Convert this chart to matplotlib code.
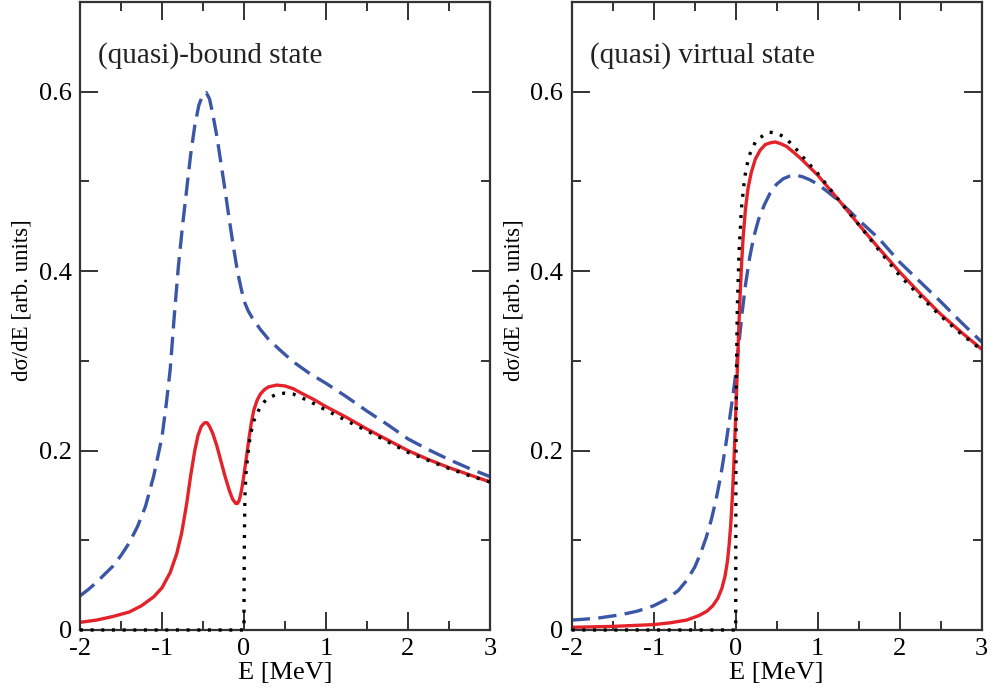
import matplotlib
matplotlib.use("Agg")
import matplotlib.pyplot as plt
from matplotlib.ticker import MultipleLocator

plt.rcParams['font.family'] = ['Liberation Serif', 'DejaVu Serif']

# ---- left panel: (quasi)-bound state ----
bound_red_E = [-2.0, -1.8, -1.6, -1.4, -1.25, -1.1, -1.0, -0.9, -0.82, -0.76, -0.7, -0.65, -0.6,
               -0.56, -0.52, -0.48, -0.45, -0.42, -0.38, -0.33, -0.28, -0.23, -0.18, -0.14, -0.1,
               -0.08, -0.06, -0.04, -0.02, 0.0, 0.02, 0.04, 0.06, 0.09, 0.12, 0.16, 0.2, 0.25, 0.3,
               0.4, 0.5, 0.6, 0.7, 0.85, 1.0, 1.25, 1.5, 1.75, 2.0, 2.25, 2.5, 2.75, 3.0]
bound_red_y = [0.0085, 0.011, 0.015, 0.020, 0.027, 0.037, 0.047, 0.064, 0.085, 0.108, 0.14, 0.172, 0.200,
               0.217, 0.227, 0.231, 0.231, 0.227, 0.219, 0.205, 0.188, 0.171, 0.156, 0.146, 0.141,
               0.141, 0.144, 0.151, 0.161, 0.173, 0.186, 0.199, 0.213, 0.231, 0.245, 0.256, 0.263, 0.268, 0.271,
               0.273, 0.272, 0.269, 0.264, 0.257, 0.249, 0.237, 0.224, 0.212, 0.200, 0.190, 0.181, 0.173, 0.165]

bound_blue_E = [-2.0, -1.9, -1.8, -1.7, -1.6, -1.5, -1.4, -1.3, -1.2, -1.1, -1.0, -0.95, -0.9, -0.85,
                -0.8, -0.75, -0.7, -0.65, -0.6, -0.55, -0.5, -0.46, -0.42, -0.38, -0.33, -0.28, -0.23,
                -0.18, -0.13, -0.08, -0.04, 0.0, 0.05, 0.1, 0.2, 0.3, 0.44, 0.6, 0.8, 1.0, 1.25, 1.5,
                1.75, 2.0, 2.25, 2.5, 2.75, 3.0]
bound_blue_y = [0.038, 0.045, 0.053, 0.062, 0.071, 0.083, 0.097, 0.115, 0.138, 0.172, 0.215, 0.250, 0.29, 0.35,
                0.405, 0.45, 0.49, 0.53, 0.562, 0.585, 0.597, 0.599, 0.592, 0.575, 0.55, 0.52, 0.49,
                0.458, 0.428, 0.40, 0.383, 0.367, 0.356, 0.348, 0.335, 0.324, 0.312, 0.299, 0.286, 0.275, 0.26, 0.244,
                0.229, 0.213, 0.201, 0.19, 0.18, 0.171]

bound_dot_E = [-2.0, 0.0, 0.002, 0.006, 0.012, 0.025, 0.05, 0.08, 0.12, 0.19, 0.27, 0.4, 0.5, 0.6,
               0.7, 0.8, 0.9, 1.0, 1.13, 1.3, 1.5, 1.75, 2.0, 2.25, 2.5, 2.75, 3.0]
bound_dot_y = [0.0, 0.0, 0.06, 0.11, 0.15, 0.175, 0.198, 0.218, 0.233, 0.247, 0.257, 0.263, 0.264, 0.263,
               0.259, 0.255, 0.25, 0.245, 0.239, 0.231, 0.222, 0.21, 0.198, 0.189, 0.18, 0.172, 0.165]

# ---- right panel: (quasi) virtual state ----
virt_red_E = [-2.0, -1.5, -1.0, -0.8, -0.6, -0.45, -0.35, -0.28, -0.22, -0.17, -0.13, -0.1, -0.08,
              -0.06, -0.04, -0.025, -0.01, 0.0, 0.01, 0.02, 0.035, 0.05, 0.07, 0.09, 0.12, 0.15, 0.19,
              0.24, 0.3, 0.36, 0.42, 0.48, 0.55, 0.62, 0.7, 0.8, 0.9, 1.0, 1.25, 1.5, 1.75, 2.0,
              2.25, 2.5, 2.75, 3.0]
virt_red_y = [0.003, 0.004, 0.006, 0.008, 0.011, 0.016, 0.021, 0.027, 0.035, 0.046, 0.06, 0.077, 0.095,
              0.118, 0.15, 0.18, 0.215, 0.24, 0.265, 0.29, 0.33, 0.365, 0.405, 0.437, 0.47, 0.492, 0.51,
              0.525, 0.535, 0.541, 0.543, 0.544, 0.542, 0.539, 0.533, 0.525, 0.516, 0.507, 0.48, 0.452, 0.425, 0.399,
              0.375, 0.352, 0.332, 0.313]

virt_blue_E = [-2.0, -1.7, -1.4, -1.2, -1.0, -0.85, -0.7, -0.6, -0.5, -0.43, -0.36, -0.3, -0.24, -0.18,
               -0.12, -0.07, -0.03, 0.0, 0.04, 0.08, 0.12, 0.17, 0.22, 0.28, 0.35, 0.42, 0.5, 0.58, 0.66,
               0.74, 0.82, 0.9, 1.0, 1.1, 1.25, 1.4, 1.5, 1.75, 2.0, 2.25, 2.5, 2.75, 3.0]
virt_blue_y = [0.011, 0.013, 0.017, 0.021, 0.027, 0.034, 0.044, 0.055, 0.07, 0.085, 0.103, 0.122, 0.145, 0.173,
               0.207, 0.238, 0.264, 0.285, 0.32, 0.355, 0.385, 0.415, 0.438, 0.458, 0.474, 0.487, 0.497, 0.503, 0.506,
               0.507, 0.505, 0.502, 0.497, 0.49, 0.479, 0.466, 0.457, 0.436, 0.41, 0.388, 0.366, 0.343, 0.321]

virt_dot_E = [-2.0, 0.0, 0.002, 0.008, 0.02, 0.04, 0.07, 0.11, 0.16, 0.25, 0.4, 0.5, 0.6, 0.72, 0.85,
              1.0, 1.25, 1.5, 1.75, 2.0, 2.25, 2.5, 2.75, 3.0]
virt_dot_y = [0.0, 0.0, 0.15, 0.28, 0.36, 0.42, 0.47, 0.505, 0.528, 0.546, 0.555, 0.554, 0.549, 0.538, 0.524,
              0.509, 0.48, 0.452, 0.423, 0.395, 0.372, 0.35, 0.33, 0.312]

xticks = [-2, -1, 0, 1, 2, 3]
xtick_labels = ['-2', '-1', '0', '1', '2', '3']
yticks = [0, 0.2, 0.4, 0.6]
ytick_labels = ['0', '0.2', '0.4', '0.6']

RED = '#e4222a'
BLUE = '#3b56a6'

fig = plt.figure(figsize=(9.91, 6.91), dpi=100)
ax1 = fig.add_axes([0.0807, 0.0883, 0.4137, 0.9088])
ax2 = fig.add_axes([0.5769, 0.0883, 0.4137, 0.9088])

panels = [
    (ax1, bound_red_E, bound_red_y, bound_blue_E, bound_blue_y, bound_dot_E, bound_dot_y,
     "(quasi)-bound state"),
    (ax2, virt_red_E, virt_red_y, virt_blue_E, virt_blue_y, virt_dot_E, virt_dot_y,
     "(quasi) virtual state"),
]

for ax, rE, ry, bE, by, dE, dy, title in panels:
    ax.plot(bE, by, color=BLUE, lw=2.4, linestyle=(0, (5.5, 2.5)))
    ax.plot(rE, ry, color=RED, lw=2.4)
    # dotted threshold curve sits on top, also over the bottom spine
    ax.plot(dE, dy, color='black', lw=2.4, linestyle=(0, (0.9, 2.3)),
            zorder=3, clip_on=False)

    ax.set_xlim(-2, 3)
    ax.set_ylim(0, 0.7)
    ax.set_xticks(xticks)
    ax.set_xticklabels(xtick_labels)
    ax.set_yticks(yticks)
    ax.set_yticklabels(ytick_labels)
    ax.xaxis.set_minor_locator(MultipleLocator(0.5))
    ax.yaxis.set_minor_locator(MultipleLocator(0.1))
    ax.tick_params(which='both', direction='in', top=True, right=True,
                   width=1.4, color='#333333', labelsize=19, pad=6)
    ax.tick_params(which='major', length=13)
    ax.tick_params(which='minor', length=6.5)
    for sp in ax.spines.values():
        sp.set_linewidth(1.6)
        sp.set_color('#333333')

    ax.set_xlabel("E [MeV]", fontsize=19, labelpad=1)
    ax.set_ylabel("d\u03c3/dE [arb. units]", fontsize=16.5)
    ax.yaxis.set_label_coords(-0.115, 0.525)
    ax.text(0.045, 0.915, title, transform=ax.transAxes, fontsize=21,
            ha='left', va='center', color='#222222')

fig.savefig("out.png", dpi=100)
